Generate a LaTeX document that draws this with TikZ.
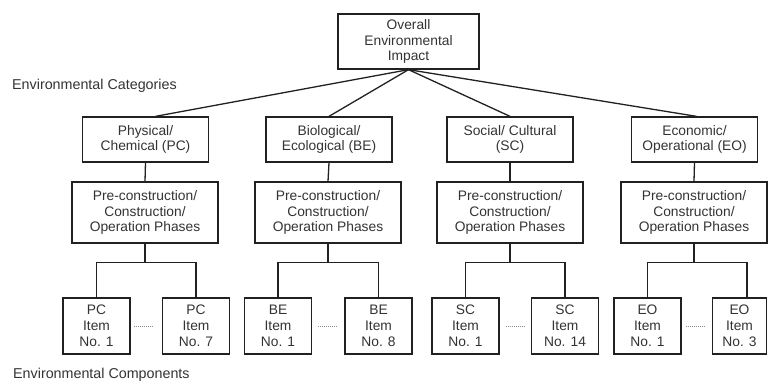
\documentclass[tikz,border=0pt]{standalone}
\usepackage{fontspec}
\setmainfont{Liberation Sans}
\usetikzlibrary{calc}
\definecolor{txt}{gray}{0.2}
\definecolor{ln}{gray}{0.13}
\definecolor{dotc}{gray}{0.55}
\begin{document}
\begin{tikzpicture}[x=1pt,y=-1pt,
  box/.style={draw=ln,line width=1.3pt,text=txt,align=center,inner sep=0pt,
    font=\fontsize{13.8}{15.5}\selectfont},
  topbox/.style={box,minimum width=141pt,minimum height=55pt},
  catbox/.style={box,minimum width=126pt,minimum height=45pt},
  phbox/.style={box,minimum width=146pt,minimum height=61pt},
  itembox/.style={box,minimum width=67pt,minimum height=56pt,font=\fontsize{13.8}{16}\selectfont},
  conn/.style={draw=ln,line width=1.3pt},
  dotline/.style={draw=dotc,line width=0.7pt,dash pattern=on 1pt off 1pt},
  lbl/.style={text=txt,anchor=west,inner sep=0pt,font=\fontsize{14.3}{16}\selectfont}
]
\useasboundingbox (0,0) rectangle (768,383);

\node[topbox] (top) at (408.5,41.5) {Overall\\Environmental\\Impact};

\node[lbl] (lcat) at (12,86) {Environmental Categories};
\node[lbl] (lcomp) at (13,375) {Environmental Components};

\node[catbox] (pc) at (145.5,139.5) {Physical/\\Chemical (PC)};
\node[catbox] (be) at (329,139.5) {Biological/\\Ecological (BE)};
\node[catbox] (sc) at (510,139.5) {Social/ Cultural\\(SC)};
\node[catbox] (eo) at (694.5,139.5) {Economic/\\Operational (EO)};

\node[phbox] (pcp) at (145,212.5) {Pre-construction/\\Construction/\\Operation Phases};
\node[phbox] (bep) at (328,212.5) {Pre-construction/\\Construction/\\Operation Phases};
\node[phbox] (scp) at (510,212.5) {Pre-construction/\\Construction/\\Operation Phases};
\node[phbox] (eop) at (694,212.5) {Pre-construction/\\Construction/\\Operation Phases};

\node[itembox] (pc1) at (96.5,326) {PC\\Item\\No. 1};
\node[itembox] (pc7) at (196,326) {PC\\Item\\No. 7};
\node[itembox] (be1) at (278,326) {BE\\Item\\No. 1};
\node[itembox] (be8) at (378.5,326) {BE\\Item\\No. 8};
\node[itembox] (sc1) at (465.5,326) {SC\\Item\\No. 1};
\node[itembox] (sc14) at (565,326) {SC\\Item\\No. 14};
\node[itembox] (eo1) at (647.5,326) {EO\\Item\\No. 1};
\node[itembox,minimum width=54pt] (eo3) at (739.5,326) {EO\\Item\\No. 3};

% top connectors
\draw[conn] (top.south) -- ([xshift=10pt]pc.north);
\draw[conn] (top.south) -- (be.north);
\draw[conn] (top.south) -- (sc.north);
\draw[conn] (top.south) -- ([xshift=2pt]eo.north);

% category to phase
\foreach \a/\b in {pc/pcp,be/bep,sc/scp,eo/eop}{
  \draw[conn] (\a.south) -- (\b.north);
}

% phase to items
\foreach \p/\l/\r in {pcp/pc1/pc7,bep/be1/be8,scp/sc1/sc14}{
  \draw[conn] (\p.south) -- ($(\p.south)+(0,19)$);
  \draw[conn] (\l.north) |- ($(\p.south)+(0,19)$) -| (\r.north);
}
\coordinate (eo3c) at ([xshift=7.5pt]eo3.north);
\draw[conn] (eop.south) -- ($(eop.south)+(0,19)$);
\draw[conn] (eo1.north) |- ($(eop.south)+(0,19)$) -| (eo3c);

% dotted between items
\draw[dotline,shorten <=3pt,shorten >=9pt] (pc1.east) -- (pc7.west);
\draw[dotline,shorten <=6pt,shorten >=8pt] (be1.east) -- (be8.west);
\draw[dotline,shorten <=6pt,shorten >=6pt] (sc1.east) -- (sc14.west);
\draw[dotline,shorten <=4pt,shorten >=7pt] (eo1.east) -- (eo3.west);
\end{tikzpicture}
\end{document}
